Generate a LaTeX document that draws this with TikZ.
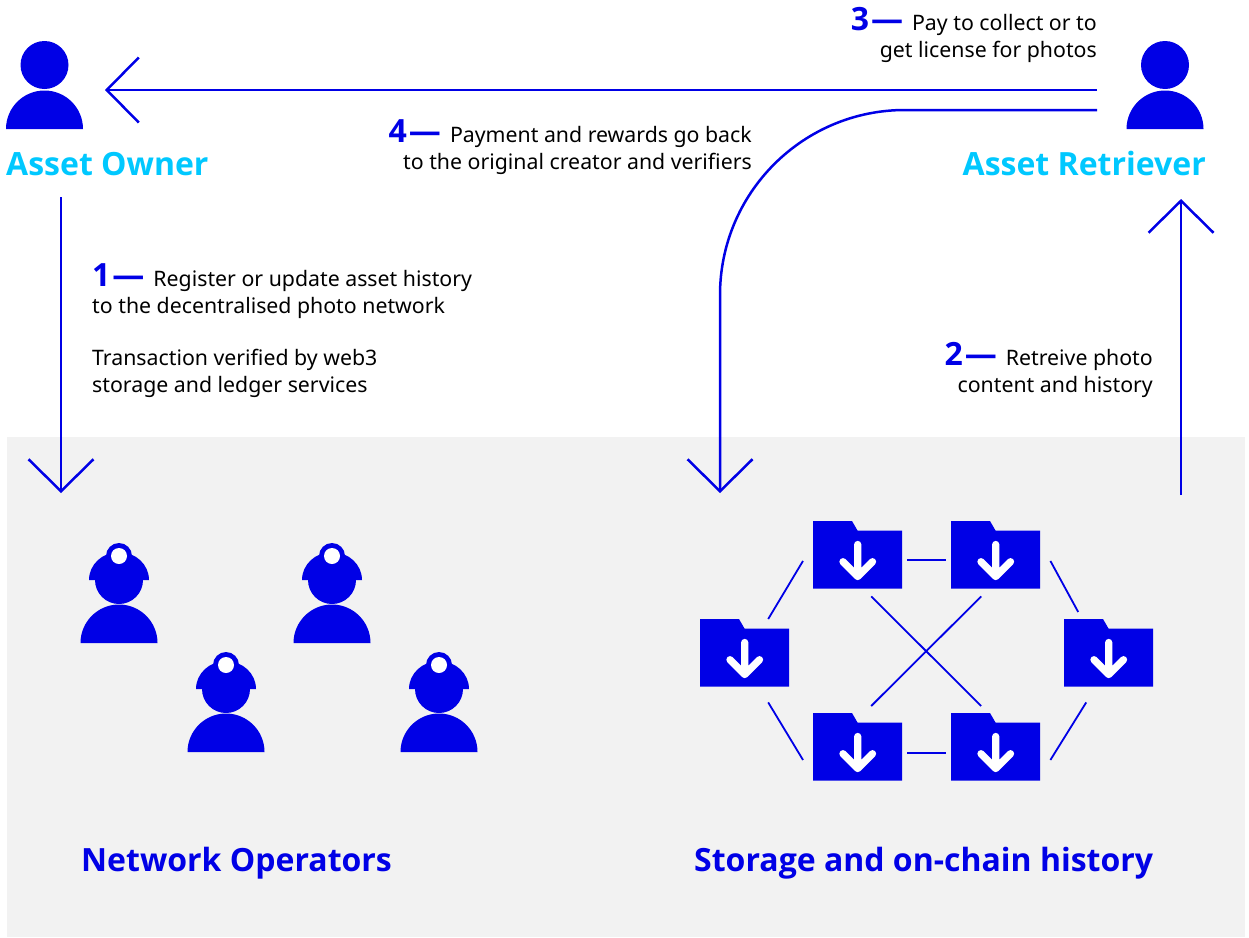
\documentclass[tikz,border=0pt]{standalone}
\usepackage{fontspec}
\setmainfont{Noto Sans}
\newfontfamily\headfont{Open Sans}
\usetikzlibrary{arrows.meta}
\usetikzlibrary{positioning}
\definecolor{Blue}{HTML}{0000E6}
\definecolor{Sky}{HTML}{00C8FF}
\definecolor{Panel}{HTML}{F2F2F2}
\newcommand{\stepnum}[1]{{\fontsize{32}{26}\headfont\bfseries\textcolor{Blue}{#1\kern2pt—}}\kern9pt}
\tikzset{
    Edge/.style = {draw=Blue,line width=2.5pt,-{Straight Barb[length=32pt,width=65pt,line width=2.5pt]}}
}
\tikzset{
    Link/.style = {draw=Blue,line width=1.8pt}
}
\tikzset{
    Note/.style = {inner sep=0pt,text=black,font=\fontsize{21.3}{26.2}\selectfont},
    Title/.style = {inner sep=0pt,font=\fontsize{32}{36}\headfont\bfseries},
    Box/.style = {inner sep=0pt,anchor=north west},
    pics/person/.style = {code={
        \node[Box,minimum width=77pt,minimum height=88pt] (-box) at (0,0) {};
        \fill[Blue] (38.5,24) circle[radius=24pt];
        \fill[Blue] (0,88) arc[start angle=180,end angle=0,radius=38.5pt] -- cycle;
    }},
    pics/miner/.style = {code={
        \node[Box,minimum width=77pt,minimum height=100pt] (-box) at (0,0) {};
        \fill[Blue] (38.5,37) circle[radius=24pt];
        \fill[Blue] (8.5,37) arc[start angle=180,end angle=0,x radius=30pt,y radius=28pt] -- cycle;
        \fill[Blue] (38.5,13) circle[radius=13pt];
        \fill[white] (38.5,13) circle[radius=8pt];
        \fill[Blue] (0,100) arc[start angle=180,end angle=0,radius=38.5pt] -- cycle;
    }},
    pics/folder/.style = {code={
        \node[Box,minimum width=89pt,minimum height=67.5pt] (-box) at (0,0) {};
        \fill[Blue] (0,0) -- (39,0) -- (44.5,9.5) -- (89,9.5) -- (89,67.5) -- (0,67.5) -- cycle;
        \draw[white,line width=7.3pt,line cap=round,line join=round]
            (44.7,23.5) -- (44.7,55.5) (30,40.7) -- (44.7,55.5) -- (59.5,40.7);
    }}
}
\begin{document}
\begin{tikzpicture}[x=1pt,y=-1pt]
\useasboundingbox (0,0) rectangle (1249,937);
\fill[Panel] (7,437) rectangle (1245,937);

\pic (owner) at (6,41) {person};
\pic (retriever) at (1126.5,41) {person};
\node[Title,text=Sky,anchor=base west] at (6,175) (ownerT) {Asset Owner};
\node[Title,text=Sky,anchor=base east] at (1206,175) (retrieverT) {Asset Retriever};

\pic (m1) at (80.5,543) {miner};
\pic (m2) at (293.5,543) {miner};
\pic (m3) at (187.5,652) {miner};
\pic (m4) at (400.5,652) {miner};
\node[Title,text=Blue,anchor=base west] at (81,871) (opsT) {Network Operators};
\node[Title,text=Blue,anchor=base west] at (694,871) (storeT) {Storage and on-chain history};

\pic (fa) at (813,521) {folder};
\pic (fb) at (951,521) {folder};
\pic (fc) at (700,619) {folder};
\pic (fd) at (1064,619) {folder};
\pic (fe) at (813,713) {folder};
\pic (ff) at (951,713) {folder};

% steps
\node[Note,anchor=base west,align=left] at (92,392) (s1) {\stepnum{1}Register or update asset history\\to the decentralised photo network\\[26.6pt]Transaction verified by web3\\storage and ledger services};
\node[Note,anchor=base east,align=right] at (1153,392) (s2) {\stepnum{2}Retreive photo\\content and history};
\node[Note,anchor=base east,align=right] at (1097,57) (s3) {\stepnum{3}Pay to collect or to\\get license for photos};
\node[Note,anchor=base east,align=right] at (752,169) (s4) {\stepnum{4}Payment and rewards go back\\to the original creator and verifiers};

\coordinate (ownerIn) at (105,90);
\coordinate (retrieverOutA) at (1097,90);
\coordinate (retrieverOutB) at (1097,110);
\coordinate (ownerOut) at (61,197);
\coordinate (opsIn) at (61,493);
\coordinate (storeIn) at (720,493);
\coordinate (storeOut) at (1181,495);
\coordinate (retrieverIn) at (1181,199);

\path (retrieverOutA) edge [Edge] (ownerIn);
\path (ownerOut) edge [Edge] (opsIn);
\path (storeOut) edge [Edge] (retrieverIn);
\draw[Edge,rounded corners=185pt] (retrieverOutB) -| (storeIn);

% links between folders
\draw[Link] ([xshift=23.5pt]fc-box.north) -- ([xshift=-10pt,yshift=-6pt]fa-box.west);
\draw[Link] ([xshift=5pt,yshift=-5pt]fa-box.east) -- ([xshift=-5pt,yshift=-5pt]fb-box.west);
\draw[Link] ([xshift=5pt,yshift=-6pt]fe-box.east) -- ([xshift=-5pt,yshift=-6pt]ff-box.west);
\draw[Link] ([xshift=13.5pt,yshift=-7.5pt]fa-box.south) -- ([xshift=-14.5pt,yshift=7pt]ff-box.north);
\draw[Link] ([xshift=13.5pt,yshift=7pt]fe-box.north) -- ([xshift=-14.5pt,yshift=-7.5pt]fb-box.south);
\draw[Link] ([xshift=10pt,yshift=-6pt]fb-box.east) -- ([xshift=-30.5pt,yshift=7pt]fd-box.north);
\draw[Link] ([xshift=23.5pt,yshift=-15.5pt]fc-box.south) -- ([xshift=-10pt,yshift=-13pt]fe-box.west);
\draw[Link] ([xshift=10pt,yshift=-13pt]ff-box.east) -- ([xshift=-22.5pt,yshift=-15.5pt]fd-box.south);
\end{tikzpicture}
\end{document}
